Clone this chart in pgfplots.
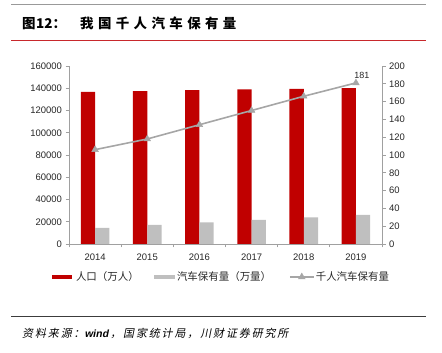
\documentclass[border=0pt]{standalone}
\usepackage{fontspec}
\setmainfont{Liberation Sans}
\newfontfamily\cjk{Noto Sans CJK SC}
\newfontfamily\cjkit{Noto Sans CJK SC}[FakeSlant=0.2]
\newfontfamily\latit{Liberation Sans}[FakeSlant=0.2]
\usepackage{pgfplots}
\pgfplotsset{compat=1.18}
\definecolor{barred}{HTML}{C00000}
\definecolor{bargray}{HTML}{BFBFBF}
\definecolor{linegray}{HTML}{A6A6A6}
\definecolor{axisgray}{HTML}{A0A0A0}
\definecolor{titlered}{HTML}{C8282C}
\definecolor{topgray}{HTML}{999999}
\definecolor{textdark}{HTML}{262626}
\newcommand\g{\hspace{4.4bp}}
\newcommand\h{\hspace{1.9bp}}
\begin{document}
\begin{tikzpicture}
\path[use as bounding box] (0bp,0bp) rectangle (442bp,353bp);
\draw[topgray, line width=1bp] (11bp,348.5bp) -- (426bp,348.5bp);
\draw[titlered, line width=1.6bp] (11bp,312.5bp) -- (426bp,312.5bp);
\node[anchor=west, inner sep=0pt] at (22bp,329.5bp) {\cjk\bfseries\fontsize{13.5}{15}\selectfont 图\hspace{0.5bp}12：};
\node[anchor=west, inner sep=0pt] at (80bp,329.5bp) {\cjk\bfseries\fontsize{13.5}{15}\selectfont 我\g 国\g 千\g 人\g 汽\g 车\g 保\g 有\g 量};
\draw[textdark!90, line width=0.8bp] (11bp,37bp) -- (426bp,37bp);
\node[anchor=west, inner sep=0pt] at (22bp,20bp) {\fontsize{11}{13}\selectfont\cjkit 资\h 料\h 来\h 源\h ：{\latit\bfseries\fontsize{10.5}{12}\selectfont wind}\h ，\h 国\h 家\h 统\h 计\h 局\h ，\h 川\h 财\h 证\h 券\h 研\h 究\h 所};

\begin{axis}[
  at={(69bp,109bp)}, anchor=south west,
  width=313bp, height=178bp, scale only axis,
  xmin=-0.5, xmax=5.5, ymin=0, ymax=160000,
  axis y line*=left, axis x line*=bottom,
  axis line style={draw=axisgray, line width=0.8bp, -},
  tick style={draw=axisgray, line width=0.8bp},
  major tick length=3.5bp, tick align=outside,
  ytick={0,20000,...,160000},
  scaled y ticks=false,
  yticklabel style={/pgf/number format/.cd, fixed, set thousands separator={}, assume math mode=true},
  xtick={-0.5,0.5,...,5.5},
  x tick label as interval,
  xticklabels={2014,2015,2016,2017,2018,2019},
  tick label style={font=\fontsize{9.5}{11}\selectfont, text=textdark},
  xticklabel style={yshift=-3bp},
  ybar, bar width=14.3bp,
]
\addplot[fill=barred, draw=none, bar shift=-7.15bp] coordinates {(0,136782) (1,137462) (2,138271) (3,139008) (4,139538) (5,140005)};
\addplot[fill=bargray, draw=none, bar shift=7.15bp] coordinates {(0,14598) (1,17228) (2,19440) (3,21743) (4,24028) (5,26150)};
\end{axis}

\begin{axis}[
  at={(69bp,109bp)}, anchor=south west,
  width=313bp, height=178bp, scale only axis,
  xmin=-0.5, xmax=5.5, ymin=0, ymax=200,
  axis y line*=right, axis x line=none,
  axis line style={draw=axisgray, line width=0.8bp, -},
  tick style={draw=axisgray, line width=0.8bp},
  major tick length=3.5bp, tick align=outside,
  ytick={0,20,...,200},
  yticklabel style={/pgf/number format/assume math mode=true},
  tick label style={font=\fontsize{9.5}{11}\selectfont, text=textdark},
  legend style={at={(-0.0543,-0.185)}, anchor=west, draw=none, fill=none,
    inner sep=0pt, outer sep=0pt,
    legend columns=3, font=\cjk\fontsize{10.5}{12}\selectfont, text=textdark,
    /tikz/column 2/.style={column sep=14bp},
    /tikz/column 4/.style={column sep=9bp},
    nodes={inner sep=0pt, outer sep=0pt}},
]
\addlegendimage{legend image code/.code={\fill[barred, draw=none] (0bp,-2.2bp) rectangle (20bp,2.2bp); \path[draw=none, fill=none] (0bp,0bp) -- (24bp,0bp);}}
\addlegendentry{\makebox[64bp][l]{人口（万人）}}
\addlegendimage{legend image code/.code={\fill[bargray, draw=none] (0bp,-2.2bp) rectangle (21bp,2.2bp); \path[draw=none, fill=none] (0bp,0bp) -- (23bp,0bp);}}
\addlegendentry{\makebox[103bp][l]{汽车保有量（万量）}}
\addplot[linegray, line width=1.6bp, mark=triangle*, mark size=3.8bp, mark options={fill=linegray, draw=linegray, line width=0.5bp},
  legend image code/.code={\draw[mark repeat=2, mark phase=2] plot coordinates {(0bp,0bp) (12bp,0bp) (24bp,0bp)}; \path[draw=none, fill=none] (0bp,0bp) -- (26bp,0bp);}]
  coordinates {(0,106) (1,118) (2,134) (3,150) (4,166) (5,181)};
\addlegendentry{千人汽车保有量}
\node[anchor=south, inner sep=1pt, font=\fontsize{9}{10}\selectfont, text=textdark] at (axis cs:5,181) [xshift=6bp, yshift=3bp] {181};
\end{axis}
\end{tikzpicture}
\end{document}
